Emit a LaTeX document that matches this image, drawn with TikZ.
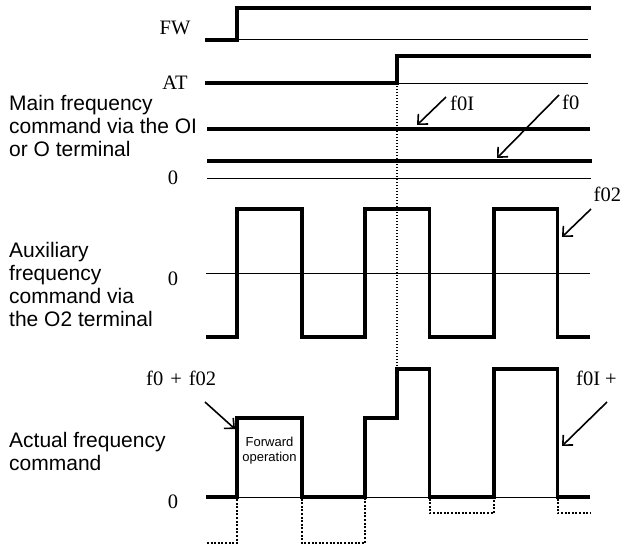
\documentclass[tikz,border=0pt]{standalone}
\usepackage{fontspec}
\setmainfont{Liberation Sans}
\newfontfamily\mfont{Liberation Serif}
\usetikzlibrary{arrows.meta}
\begin{document}
\begin{tikzpicture}[x=1pt,y=-1pt,
  thicksig/.style={line width=3.3pt, line join=miter},
  thinsig/.style={line width=1pt},
  dotsig/.style={line width=2pt, dash pattern=on 2pt off 1.6pt},
  marker/.style={line width=1.6pt, -{Straight Barb[length=7.5pt,width=14pt]}},
  lbl/.style={font=\mfont\fontsize{20.5}{22}\selectfont, inner sep=0pt},
  desc/.style={font=\fontsize{21}{23}\selectfont, align=left, inner sep=0pt, anchor=north west},
]
\useasboundingbox (0,0) rectangle (621,551);

% ---- FW ----
\node[lbl] (fw) at (175,28) {FW};
\draw[thinsig] (237,40) -- (588,40);
\draw[thicksig] (205,40) -- (237,40) -- (237,8) -- (591,8);

% ---- AT ----
\node[lbl] (at) at (175,83) {AT};
\draw[thinsig] (397,83) -- (588,83);
\draw[thicksig] (205,83) -- (397,83) -- (397,56) -- (591,56);

% ---- Main frequency ----
\node[desc] (mainlbl) at (9,95.5) {Main frequency\\command via the OI\\or O terminal};
\node[lbl] (z1) at (173,178) {0};
\draw[thinsig] (207,178) -- (591,178);
\draw[thicksig] (207,129) -- (590,129);
\draw[thicksig] (207,161) -- (592,161);
\node[lbl, anchor=west] (lf0I) at (450,103) {f0I};
\node[lbl, anchor=west] (lf0) at (562,102) {f0};
\coordinate (a1s) at (446,97);
\coordinate (a1e) at (417,125);
\coordinate (a2s) at (559,95);
\coordinate (a2e) at (497,158);
\draw[marker] (a1s) -- (a1e);
\draw[marker] (a2s) -- (a2e);

% ---- dotted marker of AT ----
\draw[line width=1.4pt, dash pattern=on 1.4pt off 1.6pt] (397,86) -- (397,369);

% ---- Auxiliary ----
\node[desc] (auxlbl) at (9,242.5) {Auxiliary\\frequency\\command via\\the O2 terminal};
\node[lbl] (z2) at (173,279) {0};
\draw[thinsig] (206,273) -- (590,273);
\draw[thicksig] (206,337) -- (237,337) -- (237,209) -- (302,209) -- (302,337)
  -- (365,337) -- (365,209) -- (429.5,209) -- (429.5,337) -- (494,337)
  -- (494,209) -- (557.5,209) -- (557.5,337) -- (590,337);
\node[lbl, anchor=west] (lf02) at (593.5,194) {f02};
\coordinate (a3s) at (591,209);
\coordinate (a3e) at (562,237);
\draw[marker] (a3s) -- (a3e);

% ---- Actual ----
\node[desc] (actlbl) at (9,432.5) {Actual frequency\\command};
\node[lbl] (z3) at (173,502) {0};
\draw[thinsig] (206,497) -- (590,497);
\draw[thicksig] (206,497) -- (237,497) -- (237,418) -- (302,418) -- (302,497)
  -- (365,497) -- (365,418) -- (397,418) -- (397,369) -- (429.5,369)
  -- (429.5,497) -- (494,497) -- (494,369) -- (557.5,369) -- (557.5,497) -- (590,497);
\draw[dotsig] (207,543) -- (237,543) -- (237,498.5);
\draw[dotsig] (302,498.5) -- (302,543) -- (365,543) -- (365,498.5);
\draw[dotsig] (429.5,498.5) -- (429.5,513) -- (494,513) -- (494,498.5);
\draw[dotsig] (557.5,498.5) -- (557.5,513) -- (590,513);
\node[font=\fontsize{13}{15}\selectfont, align=center, inner sep=0pt, anchor=north] (fwd) at (269.5,436.5) {Forward\\operation};
\node[lbl, anchor=west] (lsum1) at (146,378) {f0\hspace{7pt}+\hspace{7pt}f02};
\node[lbl, anchor=west] (lsum2) at (576,378) {f0I\hspace{5pt}+};
\coordinate (a4s) at (205,402);
\coordinate (a4e) at (235,429);
\coordinate (a5s) at (607,402);
\coordinate (a5e) at (562,446);
\draw[marker] (a4s) -- (a4e);
\draw[marker] (a5s) -- (a5e);
\end{tikzpicture}
\end{document}
